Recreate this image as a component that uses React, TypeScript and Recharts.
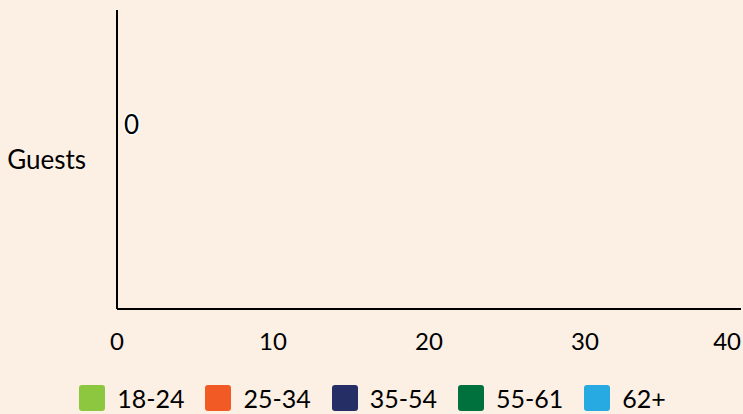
import React from "react";
import { BarChart, Bar, XAxis, YAxis, Legend, LabelList } from "recharts";

const categories = ["Guests"];
const seriesNames = ["18-24", "25-34", "35-54", "55-61", "62+"];
const seriesColors = ["#8dc63f", "#f15a24", "#252f65", "#00703c", "#27a9e1"];
const values18to24 = [0];
const values25to34 = [0];
const values35to54 = [0];
const values55to61 = [0];
const values62plus = [0];
const xTicks = [0, 10, 20, 30, 40];

const seriesValues = [values18to24, values25to34, values35to54, values55to61, values62plus];

const data = categories.map((name, i) => {
  const row: Record<string, any> = { name };
  seriesNames.forEach((s, k) => {
    row[s] = seriesValues[k][i];
  });
  return row;
});

const FONT = "Lato, 'Noto Sans', sans-serif";

const XTick = (props: any) => {
  const { x, y, payload, index } = props;
  const last = index === xTicks.length - 1;
  return (
    <text
      x={x}
      y={y}
      dy="0.71em"
      textAnchor={last ? "end" : "middle"}
      fontSize={24}
      fill="#000"
      fontFamily={FONT}
    >
      {payload.value}
    </text>
  );
};

const ValueLabel = (props: any) => {
  const { x, y, width, height, value } = props;
  return (
    <text
      x={Number(x) + Number(width || 0) + 6}
      y={Number(y) + Number(height) / 2}
      dy="0.355em"
      textAnchor="start"
      fontSize={26}
      fill="#000"
      stroke="#fff"
      strokeWidth={3}
      paintOrder="stroke"
      fontFamily={FONT}
    >
      {value}
    </text>
  );
};

const LegendContent = (props: any) => {
  const items = (props.payload && props.payload.length
    ? props.payload.map((p: any) => ({ label: p.value, color: p.color }))
    : seriesNames.map((s, i) => ({ label: s, color: seriesColors[i] })));
  return (
    <div
      style={{
        display: "flex",
        justifyContent: "center",
        alignItems: "center",
        height: 26,
        fontFamily: FONT,
        fontSize: 25,
        color: "#000",
        paddingLeft: 4,
      }}
    >
      {items.map((it: any, i: number) => (
        <div
          key={i}
          style={{
            display: "flex",
            alignItems: "center",
            marginLeft: i === 0 ? 0 : 21,
            height: 26,
          }}
        >
          <span
            style={{
              display: "inline-block",
              width: 26,
              height: 26,
              borderRadius: 3,
              background: it.color,
              marginRight: 12,
            }}
          />
          <span style={{ lineHeight: "26px" }}>{it.label}</span>
        </div>
      ))}
    </div>
  );
};

export default function App() {
  return (
    <div
      style={{
        position: "absolute",
        left: 0,
        top: 0,
        width: 743,
        height: 414,
        background: "#fcefe3",
        fontFamily: FONT,
        overflow: "hidden",
      }}
    >
      <BarChart
        width={743}
        height={414}
        data={data}
        layout="vertical"
        margin={{ top: 10, right: 2, bottom: 3, left: 0 }}
        barCategoryGap="22%"
      >
        <XAxis
          type="number"
          domain={[0, 40]}
          ticks={xTicks}
          height={76}
          tickLine={false}
          tickSize={0}
          tickMargin={24}
          axisLine={{ stroke: "#000", strokeWidth: 2 }}
          tick={<XTick />}
          interval={0}
        />
        <YAxis
          type="category"
          dataKey="name"
          width={117}
          tickLine={false}
          tickSize={0}
          tickMargin={31}
          axisLine={{ stroke: "#000", strokeWidth: 2 }}
          tick={{ fontSize: 26, fill: "#000", fontFamily: FONT }}
        />
        <Legend verticalAlign="bottom" align="center" content={<LegendContent />} />
        {seriesNames.map((s, i) => (
          <Bar
            key={s}
            dataKey={s}
            name={s}
            fill={seriesColors[i]}
            isAnimationActive={false}
            minPointSize={i === 1 ? 1 : 0}
          >
            {i === 1 ? <LabelList dataKey={s} content={<ValueLabel />} /> : null}
          </Bar>
        ))}
      </BarChart>
    </div>
  );
}
